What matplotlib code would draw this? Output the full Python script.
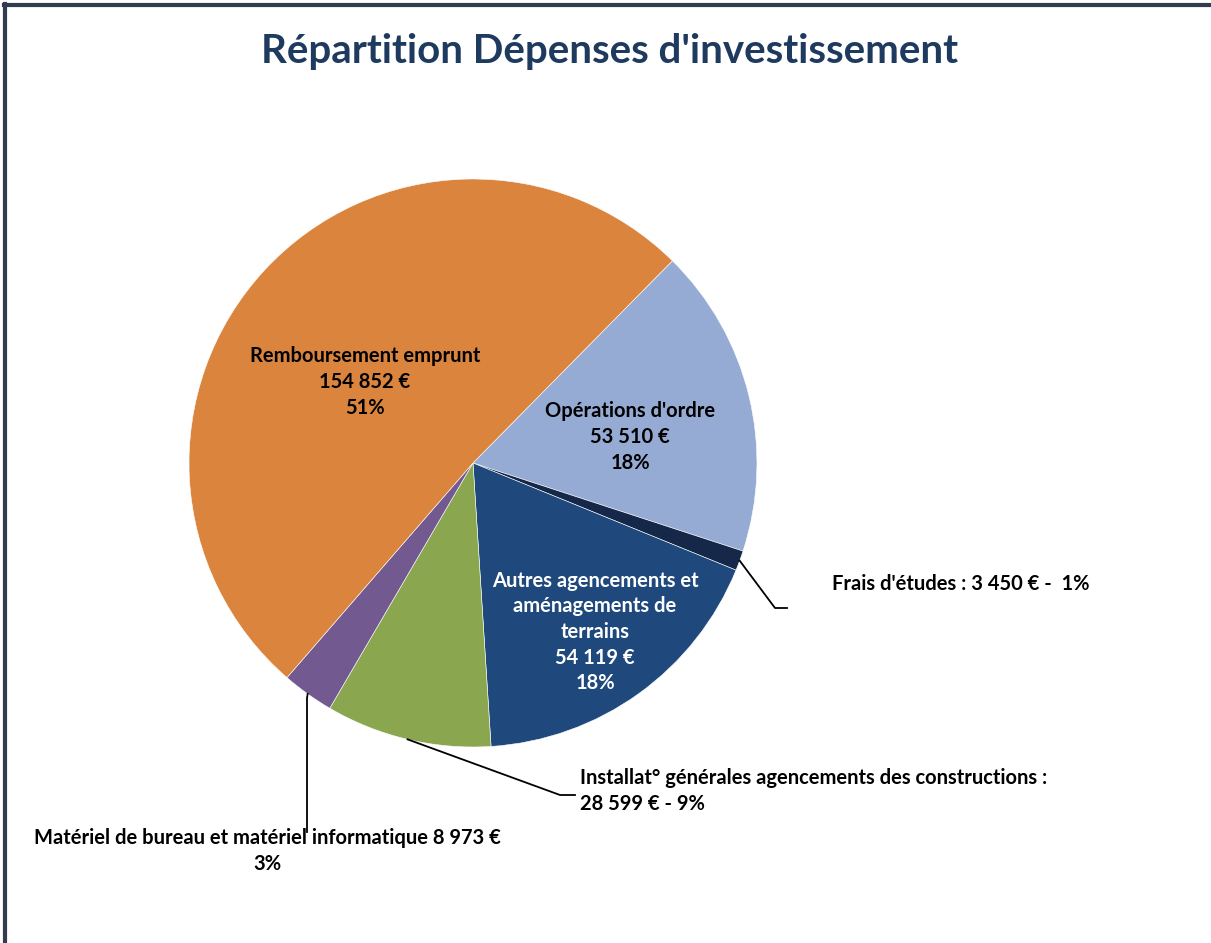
import numpy as np
import matplotlib
matplotlib.use('Agg')
import matplotlib.pyplot as plt
from matplotlib.lines import Line2D

categories = ["Opérations d'ordre", "Frais d'études", "Autres agencements et aménagements de terrains",
              "Installat° générales agencements des constructions", "Matériel de bureau et matériel informatique",
              "Remboursement emprunt"]
values = [53510, 3450, 54119, 28599, 8973, 154852]
colors = ['#95abd3', '#15284a', '#1f497d', '#8aa64f', '#725a91', '#da843e']

W, H = 1211, 943
fig = plt.figure(figsize=(W / 100, H / 100), dpi=100)
ax = fig.add_axes([0, 0, 1, 1])

cx, cy, r = 473, H - 463, 284
wedges, _ = ax.pie(values, colors=colors, startangle=45.4, counterclock=False,
                   center=(cx, cy), radius=r, wedgeprops=dict(edgecolor='white', linewidth=0.4))
ax.set_xlim(0, W)
ax.set_ylim(0, H)
ax.set_aspect('equal')
ax.axis('off')

fnt = 'Lato'
fs = 14.5
ls = 1.35

def px(y):
    return H - y

# labels inside
ax.text(365, px(382), "Remboursement emprunt\n154 852 €\n51%", ha='center', va='center',
        fontsize=fs, fontweight='bold', family=fnt, color='black', linespacing=ls)
ax.text(630, px(437), "Opérations d'ordre\n53 510 €\n18%", ha='center', va='center',
        fontsize=fs, fontweight='bold', family=fnt, color='black', linespacing=ls)
ax.text(595, px(632), "Autres agencements et\naménagements de\nterrains\n54 119 €\n18%", ha='center',
        va='center', fontsize=fs, fontweight='bold', family=fnt, color='white', linespacing=ls)

# outside labels with leaders
def edge_point(w):
    a = np.deg2rad((w.theta1 + w.theta2) / 2)
    return cx + r * np.cos(a), cy + r * np.sin(a)

x0, y0 = edge_point(wedges[1])
ax.add_line(Line2D([x0, 775, 787], [y0, px(608), px(608)], color='black', lw=1.3))
ax.text(832, px(584), "Frais d'études : 3 450 € -  1%", ha='left', va='center',
        fontsize=fs, fontweight='bold', family=fnt, color='black')

x0, y0 = edge_point(wedges[3])
ax.add_line(Line2D([x0, 560, 575], [y0, px(795), px(795)], color='black', lw=1.3))
ax.text(580, px(791), "Installat° générales agencements des constructions :\n28 599 € - 9%", ha='left',
        va='center', fontsize=fs, fontweight='bold', family=fnt, color='black', linespacing=ls)

x0, y0 = edge_point(wedges[4])
ax.add_line(Line2D([x0, 307, 307], [y0, px(698), px(832)], color='black', lw=1.3))
ax.text(267, px(851), "Matériel de bureau et matériel informatique 8 973 €\n3%", ha='center',
        va='center', fontsize=fs, fontweight='bold', family=fnt, color='black', linespacing=ls)

fig.text(610 / W, 1 - 52 / H, "Répartition Dépenses d'investissement", ha='center', va='center',
         fontsize=29, fontweight='bold', family=fnt, color='#1f3a5f')

# border (top and left)
fig.add_artist(Line2D([4 / W, 1], [1 - 5 / H, 1 - 5 / H], color='#323c4e', lw=3, transform=fig.transFigure))
fig.add_artist(Line2D([5 / W, 5 / W], [0, 1 - 4 / H], color='#323c4e', lw=3, transform=fig.transFigure))

fig.savefig('out.png', dpi=100, facecolor='white')
